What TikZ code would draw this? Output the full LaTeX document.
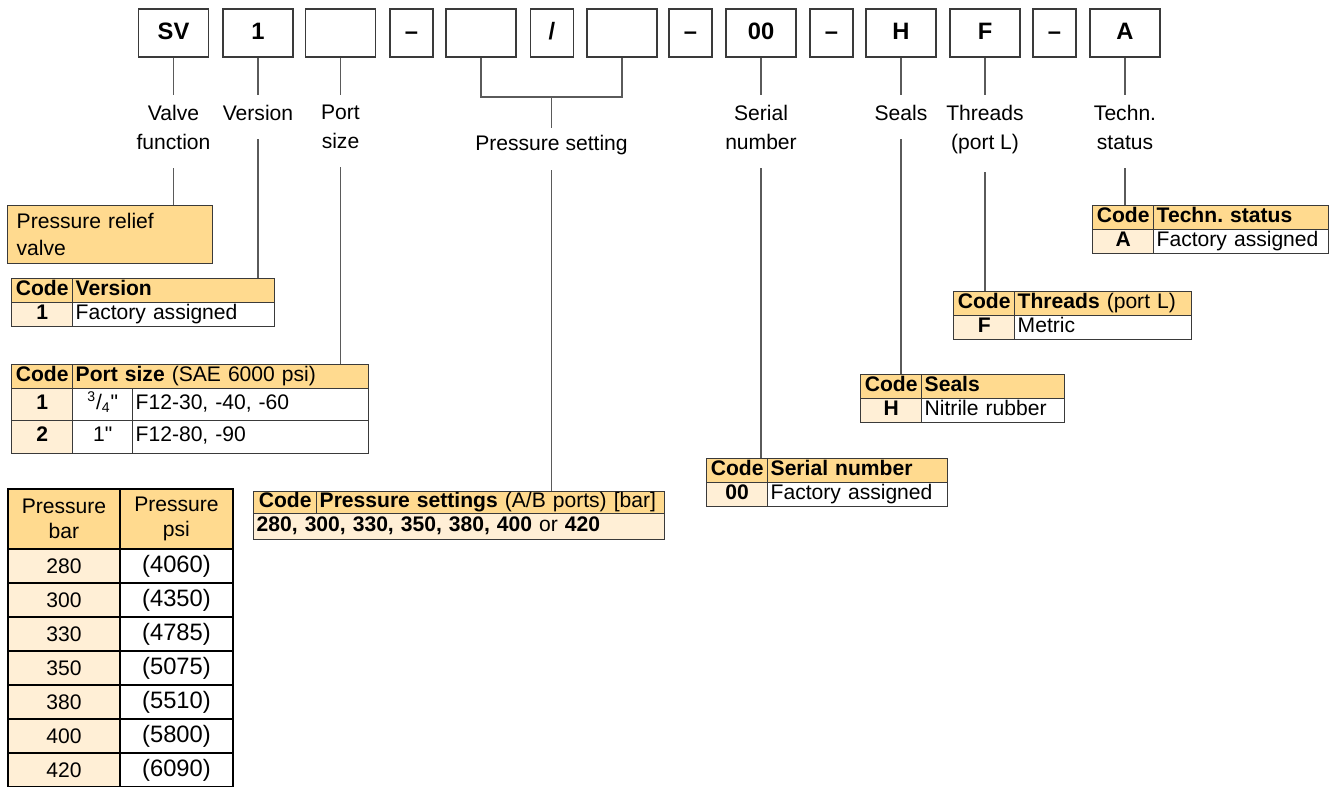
\documentclass[tikz,border=0pt]{standalone}
\usepackage{fontspec}
\setmainfont{Liberation Sans}
\usetikzlibrary{positioning, calc}
\definecolor{hdr}{HTML}{FFDA8F}
\definecolor{lite}{HTML}{FFEFD6}
\definecolor{edge}{HTML}{3A3A3A}
\definecolor{wire}{HTML}{5A5A5A}
\newcommand{\txtsize}{\fontsize{12pt}{16.5pt}\selectfont}
\newcommand{\keysize}{\fontsize{13.5pt}{16pt}\selectfont\bfseries}
\frenchspacing

\begin{document}
\begin{tikzpicture}[
            x=0.02cm, y=-0.02cm,
            every node/.style={font=\txtsize},
            key/.style={draw=edge, line width=0.9pt, minimum width=1.4cm, minimum height=0.96cm, inner sep=0pt,
                                           text height=0.72em, text depth=0pt, font=\keysize},
            sep/.style={key, minimum width=0.86cm},
            lbl/.style={align=center, anchor=north, inner xsep=0pt, inner ysep=0.2cm},
            link/.style={draw=wire, line width=0.6pt},
            low/.style={link, shorten <=0.16cm},
            cell/.style={draw=edge, line width=0.8pt, anchor=north west, inner xsep=0.06cm, inner ysep=0pt,
                                           minimum height=0.48cm, text height=0.72em, text depth=0.22em},
            hcode/.style={cell, fill=hdr, minimum width=1.22cm, font=\txtsize\bfseries},
            vcode/.style={cell, fill=lite, minimum width=1.22cm, font=\txtsize\bfseries},
            htext/.style={cell, fill=hdr, text width=#1, align=left},
            vtext/.style={cell, fill=white, text width=#1, align=left},
            pcell/.style={draw=black, line width=1.1pt, anchor=north west, minimum width=2.24cm, minimum height=0.68cm, inner sep=0pt}
      ]
      \path[use as bounding box, fill=white] (0,0) rectangle (1331,787);

      % Type code row
      \node[key] (sv)   at (173.5,33) {SV};
      \node[key] (ver)  at (258,33)   {1};
      \node[key] (port) at (340.5,33) {};
      \node[sep] (d1)   at (411.5,33) {--};
      \node[key] (pa)   at (481,33)   {};
      \node[sep] (sl)   at (552,33)   {/};
      \node[key] (pb)   at (622,33)   {};
      \node[sep] (d2)   at (690.5,33) {--};
      \node[key] (ser)  at (761,33)   {00};
      \node[sep] (d3)   at (831.5,33) {--};
      \node[key] (seal) at (901,33)   {H};
      \node[key] (thr)  at (985,33)   {F};
      \node[sep] (d4)   at (1054.5,33) {--};
      \node[key] (tec)  at (1125,33)  {A};

      % Labels
      \node[lbl] (sv-l)   at (173.5,95) {Valve\\function};
      \node[lbl] (ver-l)  at (258,95)   {Version};
      \node[lbl] (port-l) at (340.5,95) {Port\\size};
      \node[lbl, inner ysep=0.14cm] (ps-l) at (551.5,128) {Pressure setting};
      \node[lbl] (ser-l)  at (761,95)   {Serial\\number};
      \node[lbl] (seal-l) at (901,95)   {Seals};
      \node[lbl] (thr-l)  at (985,95)   {Threads\\(port L)};
      \node[lbl] (tec-l)  at (1125,95)  {Techn.\\status};

      \draw[link] (sv) -- (sv-l);
      \draw[link] (ver) -- (ver-l);
      \draw[link] (port) -- (port-l);
      \coordinate (brk) at (551.5,97);
      \draw[link] (pa.south) |- (brk) -| (pb.south);
      \draw[link] (brk) -- (ps-l);
      \draw[link] (ser) -- (ser-l);
      \draw[link] (seal) -- (seal-l);
      \draw[link] (thr) -- (thr-l);
      \draw[link] (tec) -- (tec-l);

      % Valve function
      \node[draw=edge, line width=0.8pt, fill=hdr, anchor=north west, text width=3.74cm, minimum height=1.16cm,
            inner xsep=0.18cm, align=left, font=\fontsize{12pt}{15.4pt}\selectfont] (relief) at (7,205) {Pressure relief\\valve};

      % Version
      \node[hcode] (ver-c) at (11,278) {Code};
      \node[htext=3.92cm] (ver-h) at (72,278) {\textbf{Version}};
      \node[vcode] (ver-1) at (11,302) {1};
      \node[vtext=3.92cm] (ver-1d) at (72,302) {Factory assigned};

      % Port size
      \node[hcode] (port-c) at (11,364) {Code};
      \node[htext=5.80cm] (port-h) at (72,364) {\textbf{Port size} (SAE 6000 psi)};
      \node[vcode, minimum height=0.64cm] (port-1) at (11,388) {1};
      \node[cell, fill=white, minimum width=1.2cm, minimum height=0.64cm] (port-1s) at (72,388) {\textsuperscript{3}/\textsubscript{4}\textquotedbl};
      \node[vtext=4.60cm, minimum height=0.64cm] (port-1d) at (132,388) {F12-30, -40, -60};
      \node[vcode, minimum height=0.66cm] (port-2) at (11,420) {2};
      \node[cell, fill=white, minimum width=1.2cm, minimum height=0.66cm] (port-2s) at (72,420) {1\textquotedbl};
      \node[vtext=4.60cm, minimum height=0.66cm] (port-2d) at (132,420) {F12-80, -90};

      % Pressure settings
      \node[hcode, minimum width=1.26cm, minimum height=0.44cm] (ps-c) at (253,491) {Code};
      \node[htext=6.84cm, minimum height=0.44cm] (ps-h) at (316,491) {\textbf{Pressure settings} (A/B ports) [bar]};
      \node[cell, fill=lite, text width=8.10cm, align=left, minimum height=0.52cm] (ps-v) at (253,513) {\textbf{280, 300, 330, 350, 380, 400} or \textbf{420}};

      % Serial number
      \node[hcode] (ser-c) at (706,458) {Code};
      \node[htext=3.48cm] (ser-h) at (767,458) {\textbf{Serial number}};
      \node[vcode] (ser-0) at (706,482) {00};
      \node[vtext=3.48cm] (ser-0d) at (767,482) {Factory assigned};

      % Seals
      \node[hcode] (seal-c) at (860,374) {Code};
      \node[htext=2.74cm] (seal-h) at (921,374) {\textbf{Seals}};
      \node[vcode] (seal-0) at (860,398) {H};
      \node[vtext=2.74cm] (seal-0d) at (921,398) {Nitrile rubber};

      % Threads
      \node[hcode] (thr-c) at (953,291) {Code};
      \node[htext=3.42cm] (thr-h) at (1014,291) {\textbf{Threads} (port L)};
      \node[vcode] (thr-0) at (953,315) {F};
      \node[vtext=3.42cm] (thr-0d) at (1014,315) {Metric};

      % Techn. status
      \node[hcode] (tec-c) at (1092,205) {Code};
      \node[htext=3.38cm] (tec-h) at (1153,205) {\textbf{Techn. status}};
      \node[vcode] (tec-0) at (1092,229) {A};
      \node[vtext=3.38cm] (tec-0d) at (1153,229) {Factory assigned};

      \draw[low] (sv-l.south) -- (sv-l.south |- relief.north);
      \draw[low] (ver-l.south) -- (ver-l.south |- ver-h.north);
      \draw[low] (port-l.south) -- (port-l.south |- port-h.north);
      \draw[low] (ps-l.south) -- (ps-l.south |- ps-h.north);
      \draw[low] (ser-l.south) -- (ser-l.south |- ser-c.north);
      \draw[low] (seal-l.south) -- (seal-l.south |- seal-c.north);
      \draw[low] (thr-l.south) -- (thr-l.south |- thr-c.north);
      \draw[low] (tec-l.south) -- (tec-l.south |- tec-c.north);

      % Pressure table
      \node[pcell, fill=hdr, minimum height=1.2cm, align=center, font=\fontsize{12pt}{14.2pt}\selectfont] (pt-b) at (7,488) {Pressure\\bar};
      \node[pcell, fill=hdr, minimum width=2.26cm, minimum height=1.2cm, align=center, font=\fontsize{12pt}{14.2pt}\selectfont] (pt-p) at (119,488) {Pressure\\psi};
      \foreach \pb/\pp [count=\n from 0] in {280/4060, 300/4350, 330/4785, 350/5075, 380/5510, 400/5800, 420/6090}{
            \node[pcell, fill=lite] (pt-b\n) at (7,{548+34*\n}) {\pb};
            \node[pcell, fill=white, minimum width=2.26cm, font=\fontsize{13.5pt}{16pt}\selectfont] (pt-p\n) at (119,{548+34*\n}) {(\pp)};
      }
\end{tikzpicture}
\end{document}
